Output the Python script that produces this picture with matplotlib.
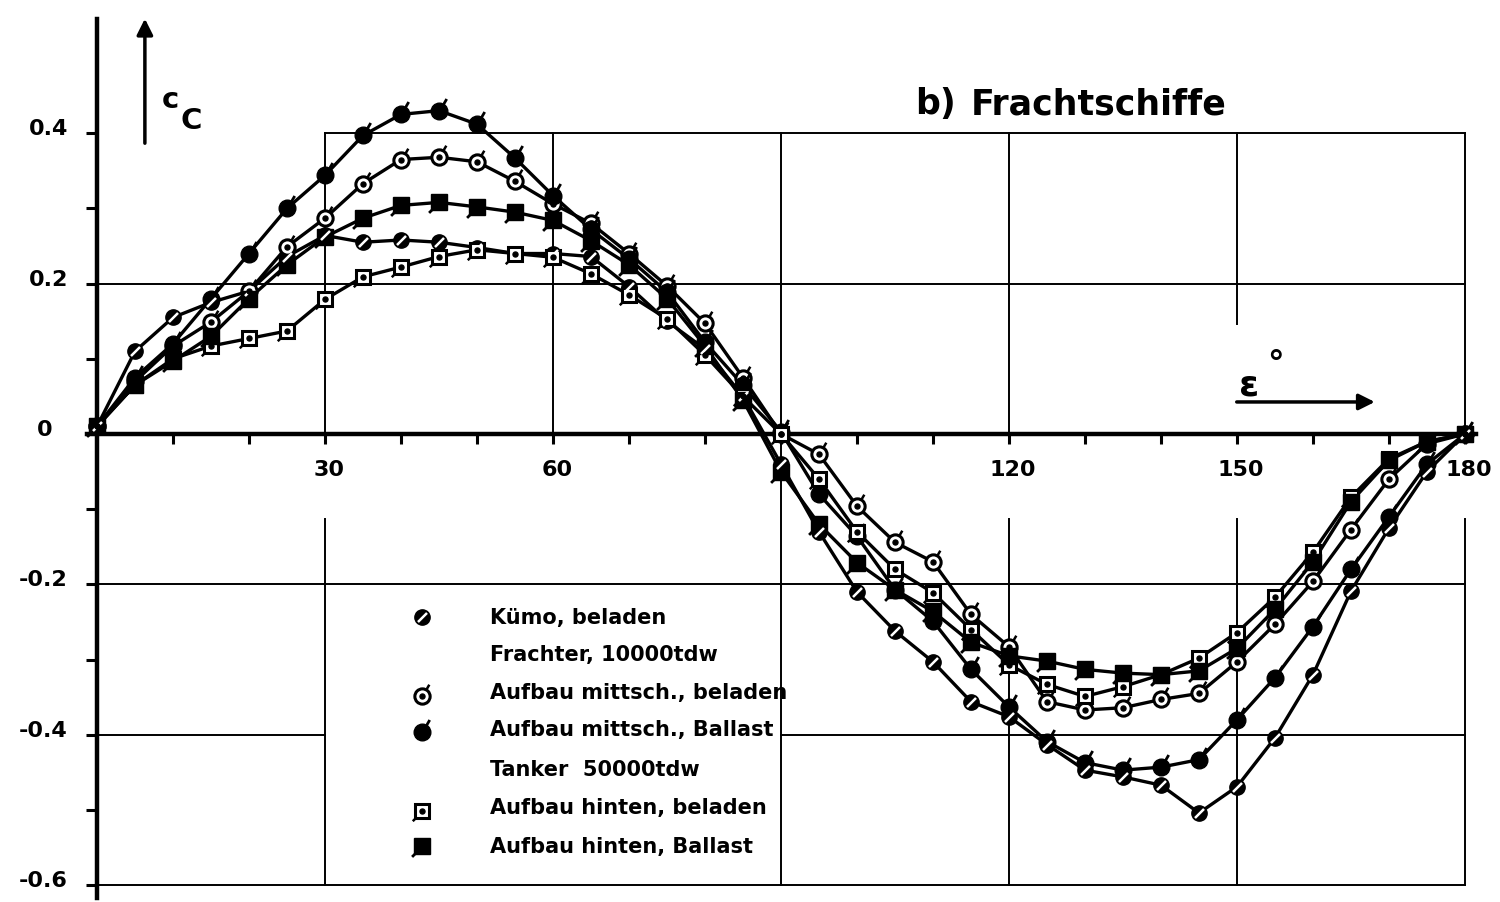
import numpy as np
import matplotlib
matplotlib.use("Agg")
import matplotlib.pyplot as plt
from matplotlib.path import Path
from matplotlib.transforms import ScaledTranslation

# ---------------- data ----------------
angles = [0, 5, 10, 15, 20, 25, 30, 35, 40, 45, 50, 55, 60, 65, 70, 75, 80, 85, 90,
          95, 100, 105, 110, 115, 120, 125, 130, 135, 140, 145, 150, 155, 160, 165, 170, 175, 180]

kuemo_beladen = [0.01, 0.11, 0.155, 0.175, 0.19, 0.236, 0.264, 0.255, 0.258, 0.255,
                 0.248, 0.24, 0.24, 0.236, 0.196, 0.15, 0.113, 0.05, -0.04,
                 -0.13, -0.21, -0.262, -0.303, -0.356, -0.376, -0.413, -0.447, -0.456,
                 -0.467, -0.504, -0.469, -0.404, -0.32, -0.209, -0.125, -0.05, 0.0]

frachter_beladen = [0.01, 0.07, 0.117, 0.149, 0.19, 0.249, 0.287, 0.333, 0.365, 0.368,
                    0.362, 0.336, 0.306, 0.28, 0.24, 0.197, 0.147, 0.075, 0.0,
                    -0.027, -0.096, -0.144, -0.17, -0.24, -0.283, -0.356, -0.367, -0.364,
                    -0.353, -0.345, -0.303, -0.253, -0.196, -0.127, -0.06, -0.013, 0.0]

frachter_ballast = [0.01, 0.075, 0.12, 0.18, 0.24, 0.30, 0.344, 0.397, 0.425, 0.43,
                    0.412, 0.367, 0.317, 0.272, 0.233, 0.189, 0.122, 0.065, 0.003,
                    -0.08, -0.136, -0.207, -0.249, -0.313, -0.363, -0.409, -0.437, -0.447,
                    -0.443, -0.433, -0.38, -0.324, -0.256, -0.18, -0.11, -0.04, 0.0]

tanker_beladen = [0.01, 0.065, 0.1, 0.117, 0.127, 0.137, 0.179, 0.209, 0.222, 0.236,
                  0.245, 0.24, 0.235, 0.213, 0.185, 0.153, 0.105, 0.05, 0.0,
                  -0.06, -0.13, -0.18, -0.211, -0.26, -0.307, -0.333, -0.349, -0.336,
                  -0.32, -0.298, -0.264, -0.217, -0.157, -0.084, -0.033, -0.01, 0.0]

tanker_ballast = [0.01, 0.065, 0.097, 0.13, 0.18, 0.225, 0.262, 0.287, 0.304, 0.308,
                  0.302, 0.295, 0.284, 0.257, 0.225, 0.18, 0.117, 0.045, -0.05,
                  -0.12, -0.171, -0.207, -0.236, -0.277, -0.295, -0.302, -0.313, -0.318,
                  -0.32, -0.315, -0.285, -0.233, -0.17, -0.09, -0.035, -0.01, 0.0]

x_ticks = [10, 20, 30, 40, 50, 60, 70, 80, 90, 100, 110, 120, 130, 140, 150, 160, 170, 180]
x_ticklabels = ["", "", "30", "", "", "60", "", "", "", "", "", "120", "", "", "150", "", "", "180"]
y_ticks = [-0.6, -0.5, -0.4, -0.3, -0.2, -0.1, 0.0, 0.1, 0.2, 0.3, 0.4]
y_ticklabels = ["-0.6", "", "-0.4", "", "-0.2", "", "0", "", "0.2", "", "0.4"]

legend_rows = ["Kümo, beladen", "Frachter, 10000tdw", "Aufbau mittsch., beladen",
               "Aufbau mittsch., Ballast", "Tanker  50000tdw",
               "Aufbau hinten, beladen", "Aufbau hinten, Ballast"]

# ---------------- figure / axes ----------------
W, H, DPI = 1500, 903, 100
X0, SX = 97, 7.6      # pixel of x=0, pixels per degree
Y0, SY = 435, 752     # pixel of y=0, pixels per unit
plt.rcParams["font.family"] = ["DejaVu Sans"]
fig = plt.figure(figsize=(W / DPI, H / DPI), dpi=DPI)
ax = fig.add_axes([0, 0, 1, 1])
ax.set_xlim(-X0 / SX, (W - X0) / SX)
ax.set_ylim(-(H - Y0) / SY, Y0 / SY)

for s in ("top", "right"):
    ax.spines[s].set_visible(False)
ax.spines["left"].set_position(("data", 0))
ax.spines["bottom"].set_position(("data", 0))
ax.spines["left"].set_bounds(-0.617, 0.552)
ax.spines["bottom"].set_bounds(-1.3, 181.5)
ax.spines["left"].set_linewidth(3.2)
ax.spines["bottom"].set_linewidth(3.2)

ax.set_xticks(x_ticks)
ax.set_xticklabels(x_ticklabels)
ax.set_yticks(y_ticks)
ax.set_yticklabels(y_ticklabels)
ax.tick_params(axis="x", direction="out", length=7, width=2.2, pad=11, labelsize=16)
ax.tick_params(axis="y", direction="out", length=8, width=2.2, pad=13, labelsize=16)
for lbl in ax.get_xticklabels():
    lbl.set_fontweight("bold")
    lbl.set_transform(lbl.get_transform() + ScaledTranslation(0.04, 0, fig.dpi_scale_trans))
for lbl in ax.get_yticklabels():
    lbl.set_fontweight("bold")
    dx = -0.15 if lbl.get_text() == "0" else 0.0
    lbl.set_transform(lbl.get_transform() + ScaledTranslation(dx, 0.07, fig.dpi_scale_trans))

# ---------------- grid (hand-drawn frame) ----------------
glw = 1.4
v_segments = [(30, 0, 0.4), (30, -0.113, -0.6), (60, 0, 0.4), (90, -0.6, 0.4),
              (120, 0, 0.4), (120, -0.113, -0.6), (150, 0.146, 0.4), (150, -0.113, -0.6),
              (180, 0, 0.4), (180, -0.113, -0.6)]
h_segments = [(0.4, 30, 180), (0.2, 0, 180), (-0.2, 0, 180), (-0.4, 0, 30),
              (-0.4, 90, 180), (-0.6, 0, 180)]
for xv, ya, yb in v_segments:
    ax.plot([xv, xv], [ya, yb], color="k", lw=glw, zorder=1)
for yv, xa, xb in h_segments:
    ax.plot([xa, xb], [yv, yv], color="k", lw=glw, zorder=1)

# ---------------- series ----------------
slash = Path([(-1, -1), (1, 1)], [Path.MOVETO, Path.LINETO])


def spur(angle_deg):
    a = np.deg2rad(angle_deg)
    c, s = np.cos(a), np.sin(a)
    return Path([(0.5 * c, 0.5 * s), (c, s)], [Path.MOVETO, Path.LINETO])


spur_ur = spur(60)     # tail to the upper right (circles)
spur_ll = spur(225)    # tail to the lower left (squares)
MS = 11
LW = 2.4

all_series = [kuemo_beladen, frachter_beladen, frachter_ballast, tanker_beladen, tanker_ballast]
for vals in all_series:
    ax.plot(angles, vals, color="k", lw=LW, zorder=3, solid_capstyle="round")


def draw_marker(xs, ys, kind, z=4):
    if kind == "kuemo":
        ax.plot(xs, ys, ls="none", marker="o", ms=MS, mfc="k", mec="k", zorder=z)
        ax.plot(xs, ys, ls="none", marker=slash, ms=6.5, mec="w", mew=1.8, zorder=z + 0.1)
    elif kind == "open_circle":
        ax.plot(xs, ys, ls="none", marker=spur_ur, ms=17, mec="k", mew=1.8, zorder=z)
        ax.plot(xs, ys, ls="none", marker="o", ms=MS, mfc="w", mec="k", mew=2.2, zorder=z)
        ax.plot(xs, ys, ls="none", marker="o", ms=3.6, mfc="k", mec="k", zorder=z + 0.1)
    elif kind == "filled_circle":
        ax.plot(xs, ys, ls="none", marker=spur_ur, ms=18, mec="k", mew=2.0, zorder=z)
        ax.plot(xs, ys, ls="none", marker="o", ms=MS + 1, mfc="k", mec="k", zorder=z)
    elif kind == "open_square":
        ax.plot(xs, ys, ls="none", marker=spur_ll, ms=14, mec="k", mew=1.8, zorder=z)
        ax.plot(xs, ys, ls="none", marker="s", ms=MS - 1, mfc="w", mec="k", mew=2.2, zorder=z)
        ax.plot(xs, ys, ls="none", marker="o", ms=3.6, mfc="k", mec="k", zorder=z + 0.1)
    elif kind == "filled_square":
        ax.plot(xs, ys, ls="none", marker=spur_ll, ms=15, mec="k", mew=2.0, zorder=z)
        ax.plot(xs, ys, ls="none", marker="s", ms=MS, mfc="k", mec="k", zorder=z)


series_kinds = ["kuemo", "open_circle", "filled_circle", "open_square", "filled_square"]
for vals, kind in zip(all_series, series_kinds):
    draw_marker(angles, vals, kind)

# ---------------- legend (hand-lettered block) ----------------
leg_text_x = 51.7
leg_text_y = [-0.2434, -0.2926, -0.343, -0.392, -0.4455, -0.496, -0.548]
leg_marker_x = 42.8
leg_marker_y = {0: -0.2434, 2: -0.348, 3: -0.396, 5: -0.501, 6: -0.548}
leg_marker_kind = {0: "kuemo", 2: "open_circle", 3: "filled_circle", 5: "open_square", 6: "filled_square"}
for i, txt in enumerate(legend_rows):
    ax.text(leg_text_x, leg_text_y[i], txt, fontsize=15, fontweight="bold",
            ha="left", va="center", zorder=5)
for i, kind in leg_marker_kind.items():
    draw_marker([leg_marker_x], [leg_marker_y[i]], kind, z=5)

# ---------------- title and axis names ----------------
ax.text(107.6, 0.44, "b)", fontsize=25, fontweight="bold", ha="left", va="center")
ax.text(115.0, 0.44, "Frachtschiffe", fontsize=25, fontweight="bold", ha="left", va="center")

ax.annotate("", xy=(6.3, 0.556), xytext=(6.3, 0.383),
            arrowprops=dict(arrowstyle="-|>", color="k", lw=2.5, mutation_scale=24))
ax.text(9.6, 0.446, "c", fontsize=21, fontweight="bold", ha="center", va="center")
ax.text(12.4, 0.418, "C", fontsize=21, fontweight="bold", ha="center", va="center")

ax.text(151.6, 0.066, "ε", fontsize=26, fontweight="bold", ha="center", va="center")
ax.text(155.0, 0.094, "°", fontsize=24, fontweight="bold", ha="center", va="center")
ax.annotate("", xy=(168.5, 0.0426), xytext=(149.6, 0.0426),
            arrowprops=dict(arrowstyle="-|>", color="k", lw=2.5, mutation_scale=24))

fig.savefig("out.png", dpi=DPI, facecolor="white")
